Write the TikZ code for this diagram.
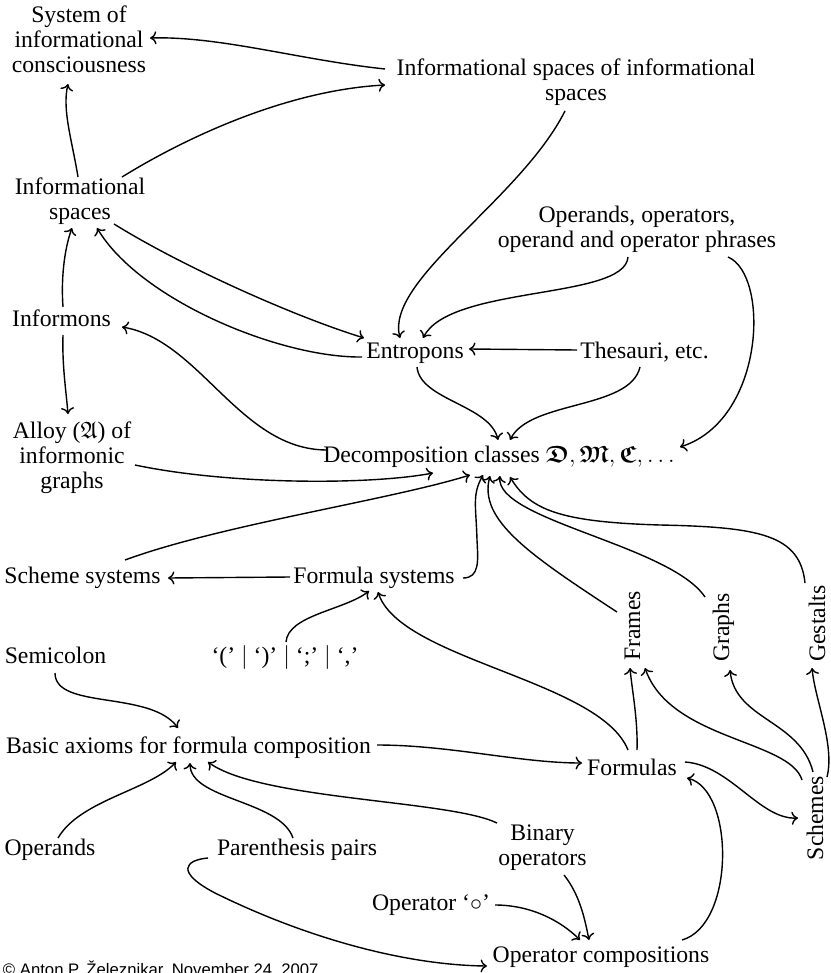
\documentclass[tikz,border=0pt]{standalone}
\usepackage{amsmath,amssymb}
\usepackage{fontspec}
\setmainfont{Liberation Serif}
\newfontfamily\signfont{Liberation Sans}
\usetikzlibrary{arrows.meta}
\newcommand\mainsz{\fontsize{11.85pt}{12.6pt}\selectfont}
\begin{document}
\begin{tikzpicture}[x=0.5pt,y=-0.5pt,
  every node/.style={inner sep=0pt, outer sep=0pt, font=\mainsz},
  lbl/.style={anchor=base},
  blk/.style={align=center, anchor=center},
  vlbl/.style={anchor=base, rotate=90},
  link/.style={line width=0.7pt, -{To[length=3.2pt,width=6.5pt]}},
]
\useasboundingbox (0,0) rectangle (830,973);

% concepts
\node[blk] (sysic) at (79,39.5) {System of\\informational\\consciousness};
\node[blk] (isis) at (576,82) {Informational spaces of informational\\spaces};
\node[blk] (is) at (80,201.4) {Informational\\spaces};
\node[lbl] (informons) at (61.5,326) {Informons};
\node[blk] (alloy) at (72,458) {Alloy ($\mathfrak{A}$) of\\informonic\\graphs};
\node[blk] (opsops) at (637,229) {Operands, operators,\\operand and operator phrases};
\node[lbl] (entropons) at (415,358) {Entropons};
\node[lbl] (thesauri) at (644.5,358) {Thesauri, etc.};
\node[lbl] (decomp) at (499,462) {Decomposition classes $\boldsymbol{\mathfrak{D}}, \boldsymbol{\mathfrak{M}}, \boldsymbol{\mathfrak{C}}, \ldots$};
\node[lbl] (schemesys) at (82.5,583) {Scheme systems};
\node[lbl] (formulasys) at (374,583) {Formula systems};
\node[lbl] (semicolon) at (55.5,663) {Semicolon};
\node[lbl] (parens) at (285,663) {‘(’ $|$ ‘)’ $|$ ‘;’ $|$ ‘,’};
\node[vlbl] (frames) at (640,626) {Frames};
\node[vlbl] (graphs) at (729,627.5) {Graphs};
\node[vlbl] (gestalts) at (825,623.5) {Gestalts};
\node[vlbl] (schemes) at (823,818) {Schemes};
\node[lbl] (basic) at (188.5,753) {Basic axioms for formula composition};
\node[lbl] (formulas) at (632,775) {Formulas};
\node[lbl] (operands) at (50,855) {Operands};
\node[lbl] (pairs) at (297,855) {Parenthesis pairs};
\node[blk] (binary) at (542.5,848) {Binary\\operators};
\node[lbl] (opcirc) at (431,910) {Operator ‘$\circ$’};
\node[lbl] (opcomp) at (601,962) {Operator compositions};
\node[anchor=base west, font=\signfont\fontsize{8.35pt}{10pt}\selectfont] (sign) at (3,975) {© Anton P. Železnikar, November 24, 2007};

% upper part
\draw[link] ([shift={(-191,-13)}]isis.center) .. controls (300,60) and (220,36) .. ([shift={(71,-1.5)}]sysic.center);
\draw[link] ([shift={(42,-24.4)}]is.center) .. controls (190,135) and (290,90) .. ([shift={(-191,3)}]isis.center);
\draw[link] ([shift={(-2,-24.4)}]is.center) .. controls (72,140) and (62,110) .. ([shift={(-11,44.5)}]sysic.center);
\draw[link] ([shift={(-11,29)}]isis.center) .. controls (520,200) and (385,280) .. ([shift={(-15,-20)}]entropons.base);
\draw[link] ([shift={(34,22.6)}]is.center) .. controls (180,265) and (290,315) .. ([shift={(-51,-20)}]entropons.base);
\draw[link] ([shift={(-53,-1)}]entropons.base) .. controls (280,358) and (140,300) .. ([shift={(17,26.6)}]is.center);
\draw[link] ([shift={(1.5,-19)}]informons.base) .. controls (61,280) and (64,250) .. ([shift={(-8,26.6)}]is.center);
\draw[link] ([shift={(1.5,9)}]informons.base) .. controls (62,365) and (66,390) .. ([shift={(-4,-44)}]alloy.center);
\draw[link] ([shift={(-172,-12)}]decomp.base) .. controls (240,450) and (200,340) .. ([shift={(60.5,1)}]informons.base);
\draw[link] ([shift={(63,7)}]alloy.center) .. controls (230,485) and (370,485) .. ([shift={(-66,11)}]decomp.base);

% towards the decomposition classes
\draw[link] ([shift={(42.5,-23)}]schemesys.base) .. controls (220,525) and (390,500) .. ([shift={(-29,13)}]decomp.base);
\draw[link] ([shift={(-84,-6)}]formulasys.base) -- ([shift={(85.5,-5)}]schemesys.base);
\draw[link] ([shift={(89,-5)}]formulasys.base) .. controls (480,578) and (478,560) .. (477,540) .. controls (476,505) and (472,495) .. ([shift={(-16,13)}]decomp.base);
\draw[link] ([shift={(1,-21)}]parens.base) .. controls (288,615) and (345,610) .. ([shift={(-5,8)}]formulasys.base);
\draw[link] ([shift={(-4,-25)}]formulas.base) .. controls (600,680) and (400,660) .. ([shift={(4,9)}]formulasys.base);
\draw[link] ([shift={(-23,-14)}]frames.base) .. controls (530,555) and (478,520) .. ([shift={(-9,14)}]decomp.base);
\draw[link] ([shift={(-24,-30.5)}]graphs.base) .. controls (670,545) and (495,520) .. ([shift={(1,14)}]decomp.base);
\draw[link] ([shift={(-20,-40.5)}]gestalts.base) .. controls (800,535) and (760,527) .. (660,525) .. controls (560,522) and (530,510) .. ([shift={(11,15)}]decomp.base);
\draw[link] ([shift={(91,28)}]opsops.center) .. controls (770,275) and (765,420) .. ([shift={(181,-15)}]decomp.base);
\draw[link] ([shift={(-9,28)}]opsops.center) .. controls (625,300) and (450,285) .. ([shift={(8,-20)}]entropons.base);
\draw[link] ([shift={(-67.5,-8)}]thesauri.base) -- ([shift={(54,-9)}]entropons.base);
\draw[link] ([shift={(2,9)}]entropons.base) .. controls (420,400) and (490,405) .. ([shift={(-1,-22)}]decomp.base);
\draw[link] ([shift={(-4.5,9)}]thesauri.base) .. controls (630,410) and (530,400) .. ([shift={(11,-22)}]decomp.base);

% formula composition
\draw[link] ([shift={(-0.5,10)}]semicolon.base) .. controls (55,710) and (150,690) .. ([shift={(-10.5,-25)}]basic.base);
\draw[link] ([shift={(188.5,-8)}]basic.base) .. controls (450,745) and (520,763) .. ([shift={(-50,-12)}]formulas.base);
\draw[link] ([shift={(8,-17)}]operands.base) .. controls (80,800) and (150,790) .. ([shift={(-12.5,9)}]basic.base);
\draw[link] ([shift={(-4,-17)}]pairs.base) .. controls (280,800) and (190,800) .. ([shift={(1.5,10)}]basic.base);
\draw[link] ([shift={(-45.5,-25)}]binary.center) .. controls (450,800) and (260,800) .. ([shift={(19.5,9)}]basic.base);
\draw[link] ([shift={(-89,3)}]pairs.base) .. controls (185,860) and (175,872) .. (215,893) .. controls (300,935) and (400,965) .. ([shift={(-114,4)}]opcomp.base);
\draw[link] ([shift={(64,-5)}]opcirc.base) .. controls (530,905) and (560,920) .. ([shift={(-21,-22)}]opcomp.base);
\draw[link] ([shift={(21.5,27)}]binary.center) .. controls (580,895) and (585,920) .. ([shift={(-12,-22)}]opcomp.base);
\draw[link] ([shift={(81,-22)}]opcomp.base) .. controls (735,925) and (735,790) .. ([shift={(55,3)}]formulas.base);

% formulas, frames, graphs, gestalts, schemes
\draw[link] ([shift={(5,-25)}]formulas.base) .. controls (638,720) and (632,690) .. ([shift={(-10,42)}]frames.base);
\draw[link] ([shift={(53,-13)}]formulas.base) .. controls (730,765) and (760,820) .. ([shift={(-25,0)}]schemes.base);
\draw[link] ([shift={(-21,-38)}]schemes.base) .. controls (790,740) and (670,740) .. ([shift={(5,42)}]frames.base);
\draw[link] ([shift={(-10,-46)}]schemes.base) .. controls (800,720) and (735,720) .. ([shift={(1,42.5)}]graphs.base);
\draw[link] ([shift={(4,-41)}]schemes.base) .. controls (835,745) and (815,700) .. ([shift={(-13,44.5)}]gestalts.base);
\end{tikzpicture}
\end{document}
